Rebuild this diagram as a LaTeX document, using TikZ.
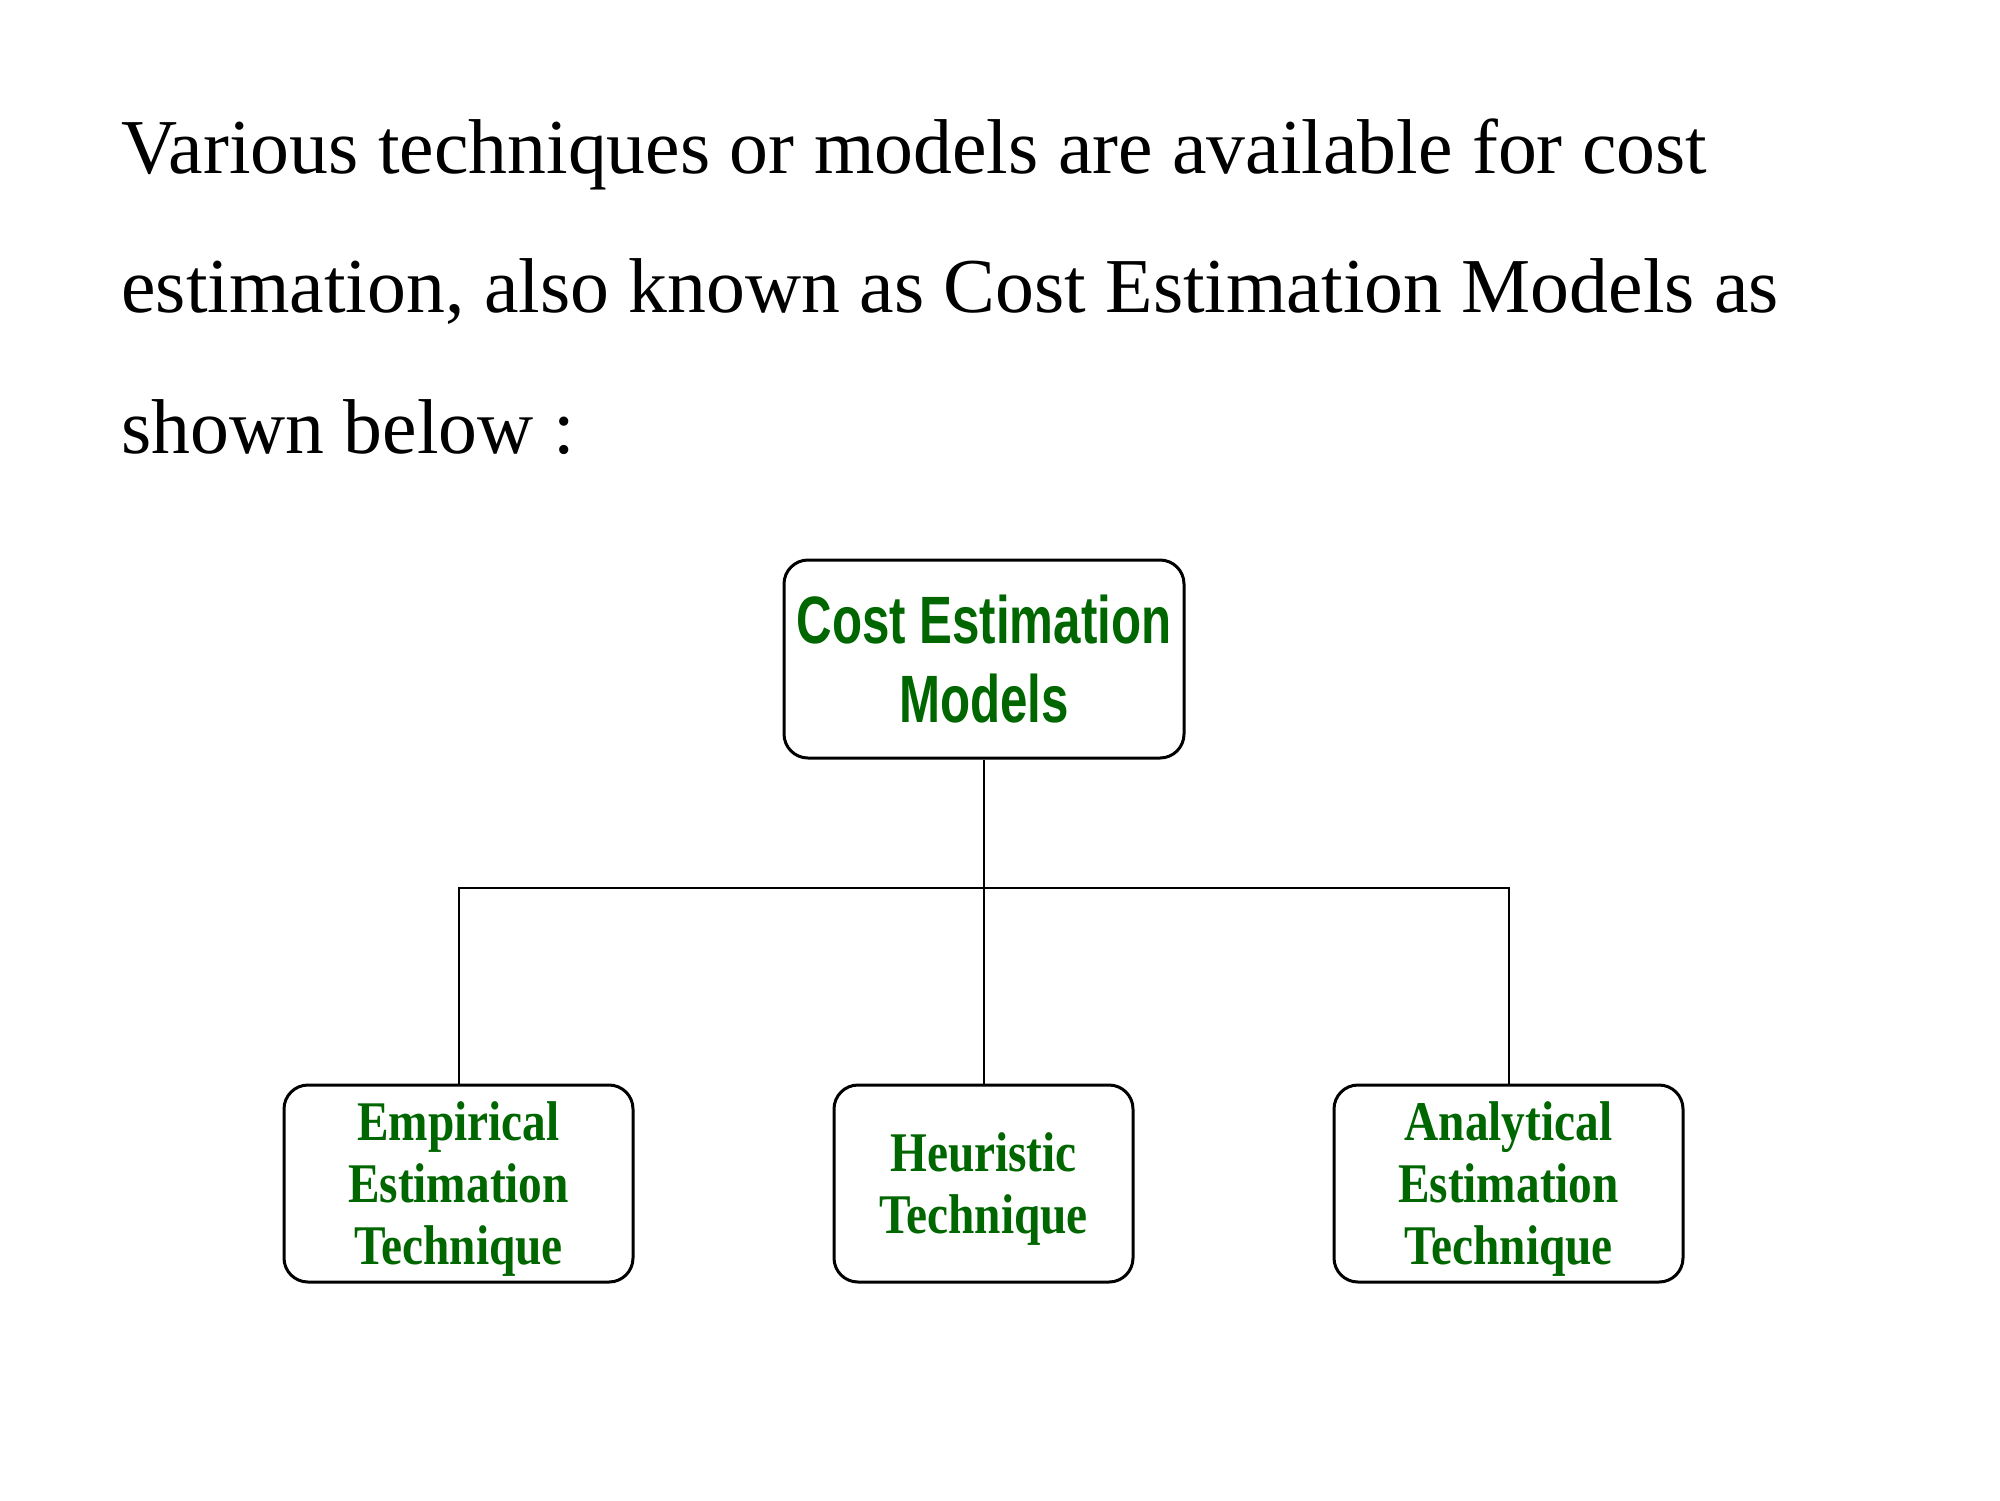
\documentclass[tikz,border=0pt]{standalone}
\usepackage{fontspec}
\setmainfont{Liberation Serif}
\newfontfamily\boxsans[FakeStretch=0.735]{Liberation Sans}
\newfontfamily\boxserif[FakeStretch=0.845]{Liberation Serif}
\definecolor{dgreen}{RGB}{0,102,0}
\tikzset{
  para/.style={anchor=base west, inner sep=0pt, font=\fontsize{38.85pt}{47pt}\selectfont},
  rootbox/.style={draw=black, line width=1.5pt, rounded corners=12pt, align=center,
    minimum width=200pt, minimum height=99pt, inner sep=0pt, text=dgreen,
    font=\boxsans\bfseries\fontsize{33.5pt}{39.5pt}\selectfont},
  leafbox/.style={draw=black, line width=1.5pt, rounded corners=12pt,
    minimum height=98.5pt, inner sep=0pt},
  leaftext/.style={align=center, inner sep=0pt, yshift=-2.8pt, text=dgreen,
    font=\boxserif\bfseries\fontsize{28pt}{31pt}\selectfont},
  conn/.style={draw=black, line width=1pt}
}
\begin{document}
\begin{tikzpicture}
\useasboundingbox (0,0) rectangle (1000pt,-750pt);
\node[para] (l1) at (60.5pt,-86.5pt) {Various techniques or models are available for cost};
\node[para] (l2) at (60.5pt,-156pt) {estimation, also known as Cost Estimation Models as};
\node[para] (l3) at (60.5pt,-226.5pt) {shown below :};

\node[rootbox] (root) at (492pt,-329.5pt) {Cost Estimation\\Models};

\node[leafbox, minimum width=174.5pt] (emp) at (229.25pt,-591.75pt) {};
\node[leaftext] (empt) at (emp.center) {Empirical\\Estimation\\Technique};
\node[leafbox, minimum width=149.5pt] (heu) at (491.75pt,-591.75pt) {};
\node[leaftext] (heut) at (heu.center) {Heuristic\\Technique};
\node[leafbox, minimum width=174.5pt] (ana) at (754.25pt,-591.75pt) {};
\node[leaftext] (anat) at (ana.center) {Analytical\\Estimation\\Technique};

\coordinate (bus) at (492pt,-444pt);
\draw[conn] (root.south) -- (root.south |- heu.north);
\draw[conn] (emp.north) -- (emp.north |- bus) -- (ana.north |- bus) -- (ana.north);
\end{tikzpicture}
\end{document}
